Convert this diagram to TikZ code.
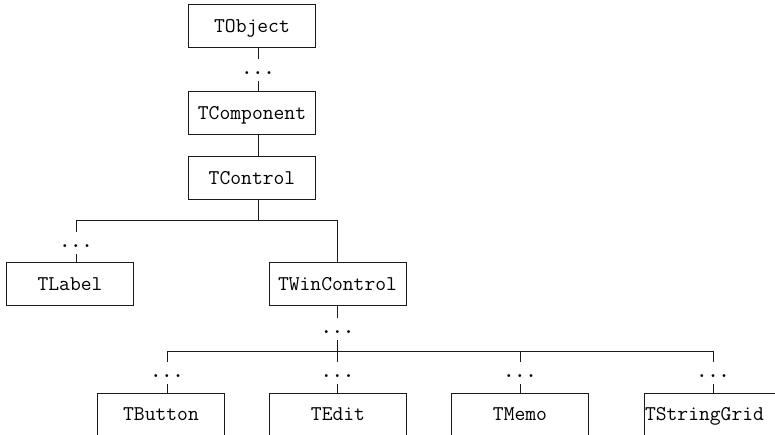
\documentclass[tikz,border=0pt]{standalone}
\usepackage{fontspec}
\definecolor{linec}{HTML}{1A1A1A}
\begin{document}
\begin{tikzpicture}[x=1pt,y=-1pt,
  cls/.style={draw=linec, line width=1pt, minimum height=43pt, inner sep=0pt,
    font=\fontsize{21}{23}\selectfont\ttfamily, text height=12.6pt, text depth=0pt},
  narrow/.style={cls, minimum width=127pt},
  wide/.style={cls, minimum width=137pt},
  dotsn/.style={inner sep=0pt, font=\fontsize{21}{23}\selectfont\ttfamily\bfseries,
    text height=15.5pt, text depth=6.5pt, anchor=base},
  conn/.style={draw=linec, line width=1pt}]
\useasboundingbox (0,0) rectangle (775,435);
\fill[white] (0,0) rectangle (775,435);
% classes
\node[narrow] (obj)  at (252,26.5) {TObject};
\node[narrow] (comp) at (252,113)  {TComponent};
\node[narrow] (ctrl) at (252,178)  {TControl};
\node[narrow] (lab)  at (70,284)   {TLabel};
\node[wide]   (win)  at (337.5,284) {TWinControl};
\node[narrow] (btn)  at (161,414.5) {TButton};
\node[wide]   (edit) at (338,414.5) {TEdit};
\node[wide]   (memo) at (520,414.5) {TMemo};
\node[wide, text width=135pt, align=left] (sg) at (712.5,414.5) {TStringGrid};
% ellipses
\node[dotsn] (d1) at (258,74.5)   {...};
\node[dotsn] (d2) at (76,247.5)   {...};
\node[dotsn] (d3) at (337.5,333.5) {...};
\node[dotsn] (d4) at (167,377.5)  {...};
\node[dotsn] (d5) at (337.5,377.5) {...};
\node[dotsn] (d6) at (520,377.5)  {...};
\node[dotsn] (d7) at (713,377.5)  {...};
% junctions
\coordinate (j1)  at (258,221);
\coordinate (j1l) at (76,221);
\coordinate (j1r) at (337.5,221);
\coordinate (j2)  at (337.5,351);
\coordinate (j2l) at (167,351);
\coordinate (j2m) at (520,351);
\coordinate (j2r) at (713,351);
% connectors
\draw[conn] (obj.south -| d1) -- (d1);
\draw[conn] (d1) -- (comp.north -| d1);
\draw[conn] (comp.south -| d1) -- (ctrl.north -| d1);
\draw[conn] (ctrl.south -| j1) -- (j1);
\draw[conn] (j1l) -- (j1r);
\draw[conn] (j1l) -- (d2);
\draw[conn] (d2) -- (lab.north -| d2);
\draw[conn] (j1r) -- (win.north -| j1r);
\draw[conn] (win.south -| d3) -- (d3);
\draw[conn] (d3) -- (j2);
\draw[conn] (j2l) -- (j2r);
\draw[conn] (j2l) -- (d4);
\draw[conn] (d4) -- (btn.north -| d4);
\draw[conn] (j2) -- (d5);
\draw[conn] (d5) -- (edit.north -| d5);
\draw[conn] (j2m) -- (d6);
\draw[conn] (d6) -- (memo.north -| d6);
\draw[conn] (j2r) -- (d7);
\draw[conn] (d7) -- (sg.north -| d7);
\end{tikzpicture}
\end{document}
